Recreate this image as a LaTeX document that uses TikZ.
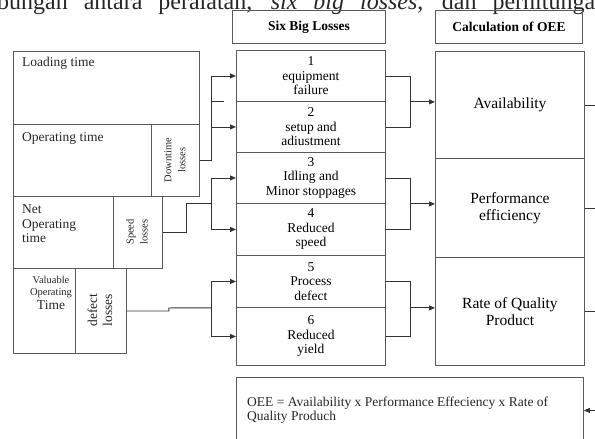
\documentclass[tikz,border=0pt]{standalone}
\usepackage{fontspec}
\setmainfont{Liberation Serif}
\usetikzlibrary{arrows.meta}

\tikzset{
  cell/.style={draw=black!65, line width=0.9pt, inner sep=0pt, align=center},
  label/.style={inner sep=0pt, text=black!85},
  wire/.style={draw=black!80, line width=0.9pt},
  feed/.style={wire, -{Triangle[length=6pt,width=5pt]}},
  lossfont/.style={font=\fontsize{13.5pt}{14.5pt}\selectfont},
  calcfont/.style={font=\fontsize{15.5pt}{17pt}\selectfont},
  headfont/.style={font=\bfseries\fontsize{13.5pt}{15pt}\selectfont},
  smallfont/.style={font=\fontsize{10.5pt}{14pt}\selectfont},
}

\begin{document}
\begin{tikzpicture}[x=1pt, y=-1pt]

% 1. Frame of the picture (pixels of the reference, y going down)
\useasboundingbox (0,0) rectangle (595,439);
\clip (0,0) rectangle (595,439);

% 2. Line of page text cut by the top edge
\node[label, anchor=base west, font=\fontsize{24pt}{26pt}\selectfont] (pagetext) at (-3,9.5)
  {\makebox[610pt][s]{bungan antara peralatan, \textit{six big losses}, dan perhitungan}};

% 3. Time boxes on the left
\node[cell, anchor=north west, minimum width=186pt, minimum height=73pt] (loading) at (13,51) {};
\node[cell, anchor=north west, minimum width=138pt, minimum height=72pt] (operating) at (13,124) {};
\node[cell, anchor=north west, minimum width=48pt, minimum height=72pt] (downtime) at (151,124) {};
\node[cell, anchor=north west, minimum width=100pt, minimum height=72pt] (netop) at (13,196) {};
\node[cell, anchor=north west, minimum width=49pt, minimum height=72pt] (speed) at (113,196) {};
\node[cell, anchor=north west, minimum width=62pt, minimum height=85pt] (valuable) at (13,268) {};
\node[cell, anchor=north west, minimum width=51pt, minimum height=85pt] (defect) at (75,268) {};

% 4. Texts of the time boxes
\node[label, lossfont, anchor=west] (loadtxt) at (22,63) {Loading time};
\node[label, lossfont, anchor=west] (optxt) at (22,138) {Operating time};
\node[label, lossfont, anchor=west, align=left] (nettxt) at (22,224) {Net\\Operating\\time};
\node[label, align=center, font=\fontsize{10.5pt}{11.5pt}\selectfont] (valtxt) at (51,287) {Valuable\\Operating};
\node[label, lossfont, below=2.5pt] (timetxt) at (valtxt.south) {Time};
\node[label, smallfont, rotate=90, align=center] (downtxt) at (175,160) {Downtime\\losses};
\node[label, smallfont, rotate=90, align=center] (speedtxt) at (137,232) {Speed\\losses};
\node[label, rotate=90, align=center, font=\fontsize{13.5pt}{15pt}\selectfont] (defecttxt) at (100,310) {defect\\losses};

% 5. Headers
\node[cell, headfont, anchor=north west, minimum width=153pt, minimum height=33pt] (sixhead) at (232,10) {Six Big Losses};
\node[cell, headfont, anchor=north west, minimum width=147pt, minimum height=33pt] (calchead) at (435,10) {Calculation of OEE};

% 6. The six big losses
\node[cell, lossfont, anchor=north west, minimum width=149pt, minimum height=51pt] (loss1) at (236,50) {1\\equipment\\failure};
\node[cell, lossfont, anchor=north west, minimum width=149pt, minimum height=51pt] (loss2) at (236,101) {2\\setup and\\adiustment};
\node[cell, lossfont, anchor=north west, minimum width=149pt, minimum height=51pt] (loss3) at (236,152) {3\\Idling and\\Minor stoppages};
\node[cell, lossfont, anchor=north west, minimum width=149pt, minimum height=52pt] (loss4) at (236,203) {4\\Reduced\\speed};
\node[cell, lossfont, anchor=north west, minimum width=149pt, minimum height=52pt] (loss5) at (236,255) {5\\Process\\defect};
\node[cell, lossfont, anchor=north west, minimum width=149pt, minimum height=58pt] (loss6) at (236,307) {6\\Reduced\\yield};

% 7. Calculation of OEE
\node[cell, calcfont, anchor=north west, minimum width=149pt, minimum height=107pt] (avail) at (435,51) {Availability};
\node[cell, calcfont, anchor=north west, minimum width=149pt, minimum height=99pt] (perf) at (435,158) {Performance\\efficiency};
\node[cell, calcfont, anchor=north west, minimum width=149pt, minimum height=108pt] (rate) at (435,257) {Rate of Quality\\Product};
\node[cell, anchor=north west, minimum width=347pt, minimum height=66pt] (oee) at (236,377) {};
\node[label, lossfont, anchor=west, align=left] (oeetxt) at (247,410)
  {OEE = Availability x Performance Effeciency x Rate of\\Quality Produch};

% 8. Connectors
\coordinate (busin) at (211,0);
\coordinate (busout) at (410,0);
\coordinate (rim) at (600,0);

% downtime losses -> 1 and 2
\draw[wire] (downtime.east) -| (loss1.west -| busin);
\draw[feed] (loss1.west -| busin) -- (loss1.west);
\draw[feed] (loss2.west -| busin) -- (loss2.west);
\draw[wire] (loss1.south west -| busin) -- ++(13,0);

% speed losses -> 3 and 4
\draw[wire] (speed.east) -- ++(24,0) |- (loss3.south west -| busin);
\draw[wire] (loss3.west -| busin) -- (loss4.west -| busin);
\draw[feed] (loss3.west -| busin) -- (loss3.west);
\draw[feed] (loss4.west -| busin) -- (loss4.west);

% defect losses -> 5 and 6
\draw[wire] (defect.east) -- ++(42,0) -- ++(0,-3) -- (loss5.south west -| busin);
\draw[wire] (loss5.west -| busin) -- (loss6.west -| busin);
\draw[feed] (loss5.west -| busin) -- (loss5.west);
\draw[feed] (loss6.west -| busin) -- (loss6.west);

% losses -> calculation
\draw[wire] (loss1.east) -- (loss1.east -| busout) -- (loss2.east -| busout) -- (loss2.east);
\draw[feed] (loss1.south east -| busout) -- (loss1.south east -| avail.west);
\draw[wire] (loss3.east) -- (loss3.east -| busout) -- (loss4.east -| busout) -- (loss4.east);
\draw[feed] (loss3.south east -| busout) -- (loss3.south east -| perf.west);
\draw[wire] (loss5.east) -- (loss5.east -| busout) -- (loss6.east -| busout) -- (loss6.east);
\draw[feed] (loss5.south east -| busout) -- (loss5.south east -| rate.west);

% lines leaving at the right edge
\draw[wire] (avail.east) -- (avail.east -| rim);
\draw[wire] (perf.east) -- (perf.east -| rim);
\draw[wire] (rate.east) -- (rate.east -| rim);
\draw[feed] (oee.east -| rim) -- (oee.east);

\end{tikzpicture}
\end{document}
